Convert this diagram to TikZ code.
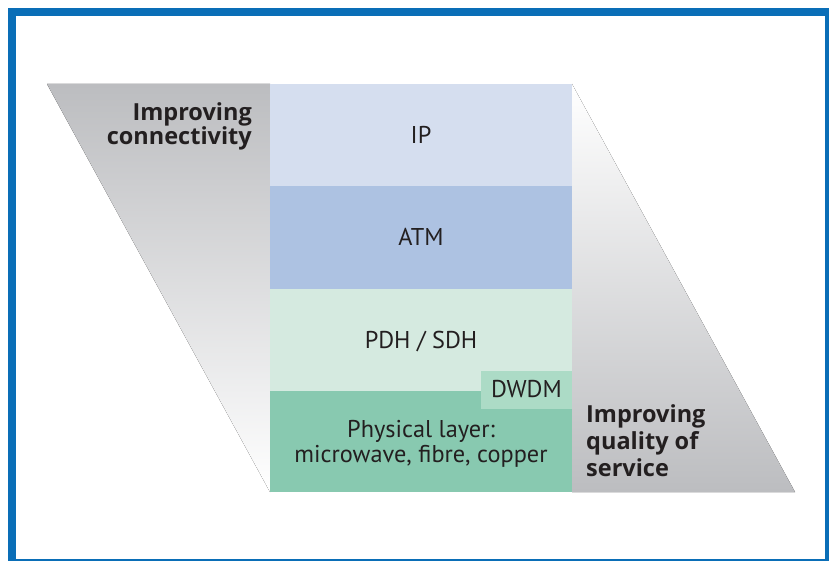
\documentclass[tikz,border=0pt]{standalone}
\usepackage{fontspec}
\setmainfont{PT Sans}
\newfontfamily\labelfont{Open Sans}
\definecolor{frameblue}{RGB}{10,110,183}
\definecolor{shadegray}{RGB}{188,189,192}
\definecolor{ipcol}{RGB}{213,222,239}
\definecolor{atmcol}{RGB}{173,194,226}
\definecolor{pdhcol}{RGB}{213,234,224}
\definecolor{phycol}{RGB}{136,201,176}
\definecolor{dwdmcol}{RGB}{172,219,198}
\definecolor{txtcol}{RGB}{35,31,32}
\begin{document}
\begin{tikzpicture}[x=1pt,y=-1pt,
  layer/.style={inner sep=0pt, outer sep=0pt, text=txtcol, font=\fontsize{24.3}{25}\selectfont},
  sidelabel/.style={inner sep=0pt, text=txtcol, font=\labelfont\bfseries\fontsize{23.5}{24}\selectfont}]
\useasboundingbox (0,0) rectangle (829,561);
\clip (0,0) rectangle (829,561);
\fill[white] (0,0) rectangle (829,561);
% frame
\draw[frameblue, line width=8pt] (12,12) rectangle (829,563);
% shaded sides
\fill[top color=shadegray, bottom color=white] (47,84) -- (270,84) -- (270,492) -- cycle;
\fill[top color=white, bottom color=shadegray] (572,84) -- (795,492) -- (572,492) -- cycle;
% layers
\fill[ipcol] (270,84) rectangle (572,186);
\fill[atmcol] (270,186) rectangle (572,289);
\fill[pdhcol] (270,289) rectangle (572,391);
\fill[phycol] (270,391) rectangle (572,492);
\fill[dwdmcol] (481,371) rectangle (572,409);
% texts
\node[layer, anchor=base] (ip) at (421,144) {IP};
\node[layer, anchor=base] (atm) at (421,246) {ATM};
\node[layer, anchor=base] (pdh) at (421,348) {PDH / SDH};
\node[layer, anchor=base] (dwdm) at (526.5,397) {DWDM};
\node[layer, align=center] (phy) at (421,443.5) {Physical layer:\\microwave, fibre, copper};
\node[sidelabel, align=right, anchor=east] (conn) at (252,126.5) {Improving\\connectivity};
\node[sidelabel, align=left, anchor=west, font=\labelfont\bfseries\fontsize{23.5}{27}\selectfont] (qos) at (586,440.5) {Improving\\quality of\\service};
\end{tikzpicture}
\end{document}
